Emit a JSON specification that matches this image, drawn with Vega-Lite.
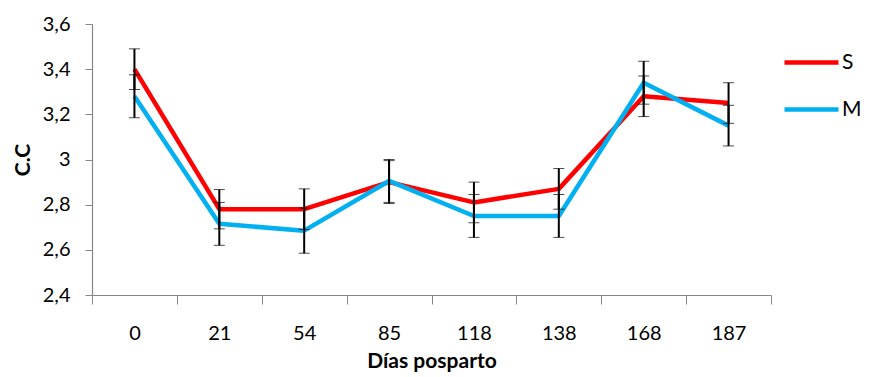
{
  "$schema": "https://vega.github.io/schema/vega-lite/v6.json",
  "width": 679,
  "height": 271,
  "autosize": {"type": "none"},
  "padding": {"left": 92, "top": 24, "right": 98, "bottom": 82},
  "background": "white",
  "config": {
    "view": {"stroke": null},
    "font": "Lato"
  },
  "data": {
    "values": [
      {"dia": 0, "serie": "S", "cc": 3.40, "err": 0.09},
      {"dia": 21, "serie": "S", "cc": 2.78, "err": 0.087},
      {"dia": 54, "serie": "S", "cc": 2.78, "err": 0.09},
      {"dia": 85, "serie": "S", "cc": 2.90, "err": 0.095},
      {"dia": 118, "serie": "S", "cc": 2.81, "err": 0.09},
      {"dia": 138, "serie": "S", "cc": 2.87, "err": 0.09},
      {"dia": 168, "serie": "S", "cc": 3.28, "err": 0.09},
      {"dia": 187, "serie": "S", "cc": 3.25, "err": 0.09},
      {"dia": 0, "serie": "M", "cc": 3.28, "err": 0.095},
      {"dia": 21, "serie": "M", "cc": 2.715, "err": 0.095},
      {"dia": 54, "serie": "M", "cc": 2.685, "err": 0.1},
      {"dia": 85, "serie": "M", "cc": 2.905, "err": 0.095},
      {"dia": 118, "serie": "M", "cc": 2.75, "err": 0.095},
      {"dia": 138, "serie": "M", "cc": 2.75, "err": 0.095},
      {"dia": 168, "serie": "M", "cc": 3.34, "err": 0.095},
      {"dia": 187, "serie": "M", "cc": 3.15, "err": 0.09}
    ]
  },
  "encoding": {
    "x": {
      "field": "dia",
      "type": "ordinal",
      "scale": {"type": "band", "paddingInner": 0, "paddingOuter": 0},
      "axis": {
        "title": "Días posparto",
        "titleFont": "Lato",
        "titleFontSize": 21,
        "titleFontWeight": "bold",
        "titleColor": "black",
        "titlePadding": 7,
        "labelAngle": 0,
        "labelFont": "Lato",
        "labelFontSize": 20,
        "labelColor": "black",
        "labelPadding": 19,
        "tickBand": "extent",
        "tickSize": 9,
        "tickColor": "#868686",
        "domainColor": "#868686",
        "tickWidth": 1,
        "domainWidth": 1.2,
        "grid": false
      }
    },
    "y": {
      "field": "cc",
      "type": "quantitative",
      "scale": {"domain": [2.4, 3.6], "nice": false, "zero": false},
      "axis": {
        "title": "C.C",
        "titleFont": "Lato",
        "titleFontSize": 21,
        "titleFontWeight": "bold",
        "titleColor": "black",
        "titlePadding": 9,
        "values": [2.4, 2.6, 2.8, 3.0, 3.2, 3.4, 3.6],
        "labelExpr": "replace(format(datum.value, '.1~f'), '.', ',')",
        "labelFont": "Lato",
        "labelFontSize": 20,
        "labelColor": "black",
        "labelPadding": 15,
        "tickSize": 7,
        "tickColor": "#868686",
        "domainColor": "#868686",
        "domainWidth": 1.2,
        "grid": false
      }
    }
  },
  "layer": [
    {
      "mark": {"type": "line", "strokeWidth": 4.5, "strokeJoin": "round"},
      "encoding": {
        "color": {
          "field": "serie",
          "type": "nominal",
          "sort": ["S", "M"],
          "scale": {"domain": ["S", "M"], "range": ["#FF0000", "#00B0F0"]},
          "legend": {
            "orient": "none",
            "legendX": 706,
            "legendY": 25,
            "title": null,
            "padding": 0,
            "symbolType": "M-2.5,0H2.5",
            "symbolSize": 467,
            "symbolStrokeWidth": 4.5,
            "labelFont": "Lato",
            "labelFontSize": 21,
            "labelColor": "black",
            "labelOffset": 17,
            "rowPadding": 23
          }
        }
      }
    },
    {
      "mark": {
        "type": "errorbar",
        "ticks": {"size": 11, "color": "black", "strokeWidth": 2},
        "rule": {"color": "black", "strokeWidth": 2}
      },
      "encoding": {
        "yError": {"field": "err"}
      }
    }
  ]
}
